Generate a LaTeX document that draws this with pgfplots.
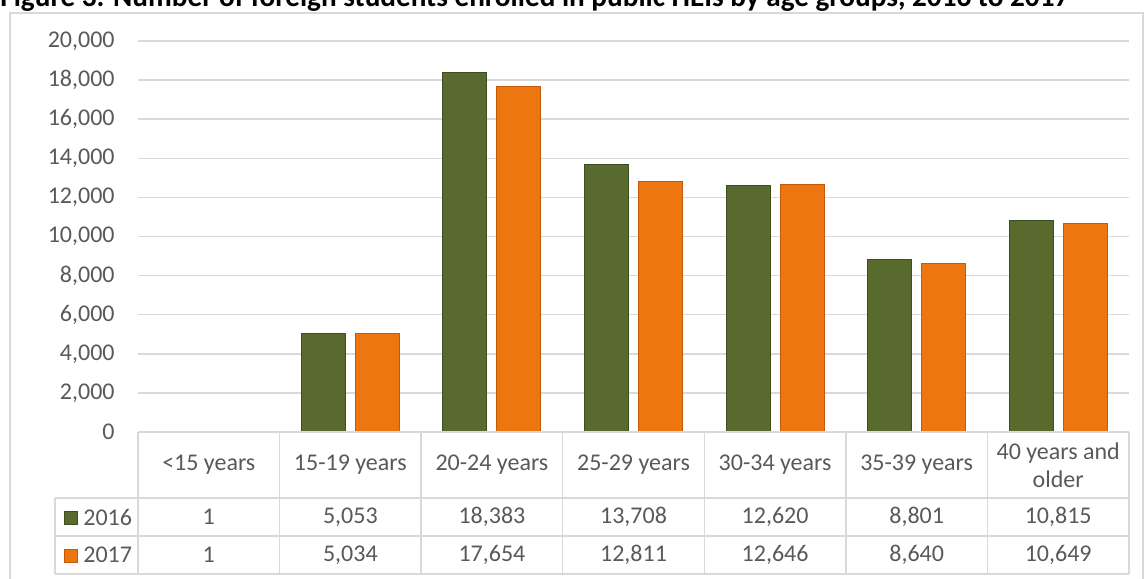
\documentclass[border=0pt]{standalone}
\usepackage{fontspec}
\setmainfont{Carlito}
\usepackage{pgfplots}
\usepackage{pgfplotstable}
\pgfplotsset{compat=1.18}

\definecolor{grn}{HTML}{586A2D}
\definecolor{grnD}{HTML}{3E4D1E}
\definecolor{org}{HTML}{EE7610}
\definecolor{orgD}{HTML}{C25A0A}
\definecolor{txt}{HTML}{595959}
\definecolor{grd}{HTML}{D9D9D9}

\pgfkeys{/pgf/number format/.cd, 1000 sep={,}, assume math mode=true}

% age group data, 2016 (a) and 2017 (b)
\pgfplotstableread{
idx a b
0 1 1
1 5053 5034
2 18383 17654
3 13708 12811
4 12620 12646
5 8801 8640
6 10815 10649
}\data

\begin{document}
\begin{tikzpicture}[x=0.5pt, y=-0.5pt]
\useasboundingbox (0,0) rectangle (1144,578);
\begin{scope}
\clip (0,0) rectangle (1144,578);
% outer chart frame
\draw[grd, line width=0.75pt] (10,13) rectangle (1143,640);
% title (cut at top as in the source)
\node[anchor=base west, inner sep=0pt, font=\bfseries\fontsize{14.6}{17}\selectfont] at (0,6)
  {Figure 3. Number of foreign students enrolled in public HEIs by age groups, 2016 to 2017};
\end{scope}

\begin{axis}[
  at={(69pt,-216pt)}, anchor=south west,
  scale only axis, width=495.5pt, height=195.5pt,
  ybar=5pt, bar width=22pt,
  xmin=-0.5, xmax=6.5, ymin=0, ymax=20000,
  xtick={0,...,6},
  xticklabels={<15 years, 15-19 years, 20-24 years, 25-29 years, 30-34 years, 35-39 years, {40 years and\\older}},
  ytick={0,2000,...,20000},
  ymajorgrids, grid style={grd, line width=0.75pt},
  axis line style={draw=none},
  major tick length=0pt,
  tick style={draw=none},
  font=\fontsize{12}{14}\selectfont,
  tick label style={text=txt},
  xticklabel style={anchor=center, yshift=-16.5pt, align=center},
  yticklabel style={anchor=east, inner sep=0pt, xshift=-11.5pt},
  scaled y ticks=false,
  clip=false,
]
\addplot[fill=grn, draw=grnD, line width=0.5pt] table[x=idx, y=a] {\data};
\addplot[fill=org, draw=orgD, line width=0.5pt] table[x=idx, y=b] {\data};
\end{axis}

% data table under the chart
\begin{scope}[grd, line width=0.75pt]
  \draw (138,432) -- (1129,432);
  \draw (55,498) -- (1129,498);
  \draw (55,536) -- (1129,536);
  \draw (55,574) -- (1129,574);
  \draw (55,498) -- (55,574);
  \foreach \k in {0,...,7} \draw ({138+141.571*\k},432) -- ({138+141.571*\k},574);
\end{scope}

% legend keys
\draw[grnD, fill=grn, line width=0.4pt] (64,511) rectangle (77,524);
\draw[orgD, fill=org, line width=0.4pt] (64,549) rectangle (77,562);
\node[anchor=west, inner sep=0pt, text=txt, font=\fontsize{12}{14}\selectfont] at (83,517) {2016};
\node[anchor=west, inner sep=0pt, text=txt, font=\fontsize{12}{14}\selectfont] at (83,555) {2017};

\foreach \k in {0,...,6} {
  \pgfplotstablegetelem{\k}{a}\of\data
  \node[text=txt, font=\fontsize{12}{14}\selectfont] at ({138+141.571*(\k+0.5)},517) {\pgfmathprintnumber{\pgfplotsretval}};
  \pgfplotstablegetelem{\k}{b}\of\data
  \node[text=txt, font=\fontsize{12}{14}\selectfont] at ({138+141.571*(\k+0.5)},555) {\pgfmathprintnumber{\pgfplotsretval}};
}
\end{tikzpicture}
\end{document}
